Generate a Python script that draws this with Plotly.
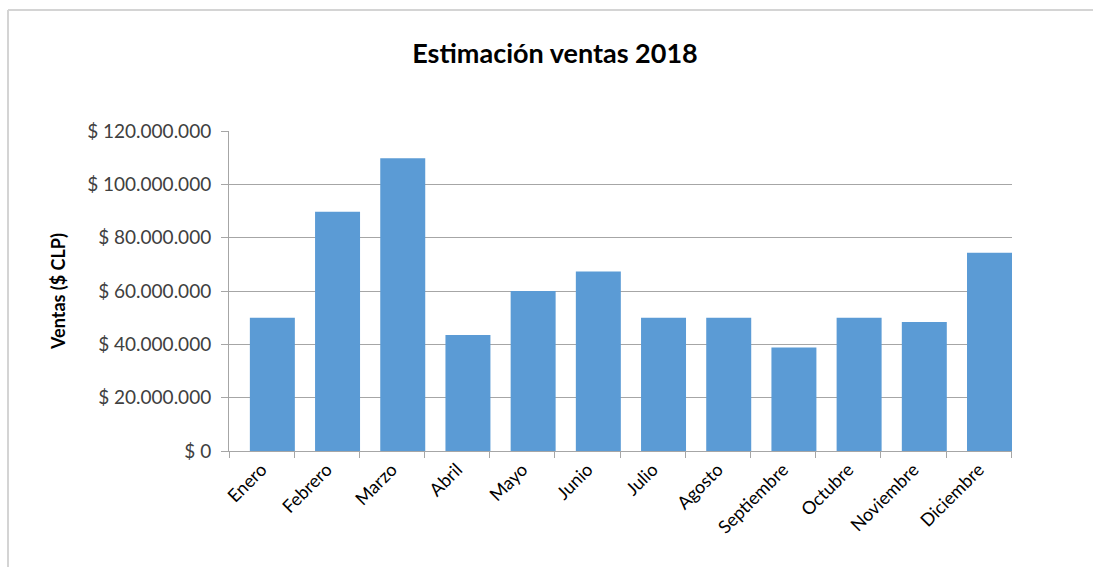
import plotly.graph_objects as go

months = ["Enero", "Febrero", "Marzo", "Abril", "Mayo", "Junio", "Julio",
          "Agosto", "Septiembre", "Octubre", "Noviembre", "Diciembre"]
ventas = [50000000, 89700000, 109800000, 43500000, 60000000, 67300000,
          50000000, 50000000, 38800000, 50000000, 48400000, 74300000]
y_tickvals = [0, 20000000, 40000000, 60000000, 80000000, 100000000, 120000000]
y_ticktext = ["$ 0", "$ 20.000.000", "$ 40.000.000", "$ 60.000.000",
              "$ 80.000.000", "$ 100.000.000", "$ 120.000.000"]

FONT = "Lato, 'Open Sans', sans-serif"

fig = go.Figure()
fig.add_trace(go.Bar(x=months, y=ventas, marker=dict(color="#5B9BD5", line=dict(width=0)),
                     width=0.69, offset=-0.18))

fig.update_layout(
    width=1093, height=567,
    margin=dict(l=229, r=81, t=131, b=116),
    paper_bgcolor="white", plot_bgcolor="white",
    showlegend=False,
    font=dict(family=FONT, color="#404040", size=18),
    title=dict(text="<b>Estimación ventas 2018</b>", x=555 / 1093, xanchor="center",
               y=1 - 54 / 567, yanchor="middle",
               font=dict(family=FONT, size=27, color="#000000")),
)
fig.update_yaxes(
    range=[0, 120000000], tickvals=y_tickvals, ticktext=y_ticktext,
    showgrid=True, gridcolor="#a6a6a6", gridwidth=1,
    showline=True, linecolor="#a6a6a6", linewidth=1,
    ticks="outside", ticklen=7, tickcolor="#a6a6a6",
    ticklabelstandoff=6,
    tickfont=dict(family=FONT, size=19, color="#404040"),
    zeroline=False,
    title=dict(text="<b>Ventas ($ CLP)</b>", standoff=16,
               font=dict(family=FONT, size=18, color="#000000")),
)
fig.update_xaxes(
    showline=True, linecolor="#a6a6a6", linewidth=1,
    ticks="outside", ticklen=6, tickcolor="#a6a6a6", tickson="boundaries",
    tickangle=-45, tickfont=dict(family=FONT, size=18, color="#000000"),
    showgrid=False,
)

# outer chart frame (top and left edges visible)
pw, ph = 1093 - 229 - 81, 567 - 131 - 116
x0 = (8 - 229) / pw
x1 = (1093 - 229) / pw
y0 = (451 - 567) / ph
y1 = (451 - 10) / ph
fig.add_shape(type="line", xref="paper", yref="paper", x0=x0, x1=x1, y0=y1, y1=y1,
              line=dict(color="#d4d4d4", width=2))
fig.add_shape(type="line", xref="paper", yref="paper", x0=x0, x1=x0, y0=y0, y1=y1,
              line=dict(color="#d4d4d4", width=2))

fig.write_html("out.html")
